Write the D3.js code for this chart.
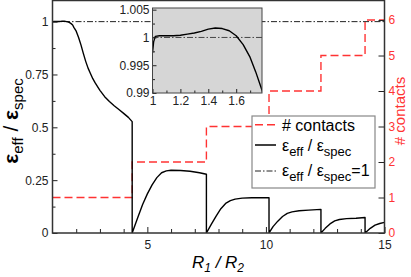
<!DOCTYPE html>
<html>
<head>
<meta charset="utf-8">
<script src="https://cdn.jsdelivr.net/npm/d3@7"></script>
<style>
  body { margin: 0; background: #fff; }
  svg { display: block; }
  svg text { font-family: "Liberation Sans", Arial, sans-serif; }
</style>
</head>
<body>
<div id="chart"></div>
<script>
// Données lues sur la figure
// segments de eff/spec entre deux changements de nombre de contacts
const segment1 = [[1.0, 0.9972], [1.008, 0.9992], [1.02, 1.0002], [1.05, 1.0003], [1.1, 1.0003], [1.15, 1.0003],
  [1.2, 1.0004], [1.25, 1.0006], [1.3, 1.0008], [1.35, 1.0011], [1.4, 1.0015], [1.45, 1.0017], [1.5, 1.0016],
  [1.55, 1.0012], [1.6, 1.0003], [1.65, 0.9987], [1.7, 0.9964], [1.74, 0.9938], [1.785, 0.9905], [1.85, 0.984],
  [1.9, 0.973], [2.0, 0.955], [2.1, 0.925], [2.2, 0.89], [2.3, 0.85], [2.4, 0.812], [2.5, 0.78], [2.6, 0.755],
  [2.7, 0.73], [2.8, 0.71], [3.0, 0.675], [3.2, 0.645], [3.4, 0.622], [3.6, 0.602], [3.8, 0.584], [4.0, 0.566],
  [4.2, 0.547], [4.36, 0.527]];
const segment2 = [[4.36, 0], [4.6, 0.075], [4.8, 0.135], [5.0, 0.185], [5.2, 0.228], [5.4, 0.262], [5.6, 0.285],
  [5.8, 0.294], [6.0, 0.297], [6.4, 0.296], [6.8, 0.292], [7.2, 0.285], [7.49, 0.278]];
const segment3 = [[7.49, 0], [7.7, 0.042], [7.9, 0.08], [8.1, 0.115], [8.3, 0.14], [8.5, 0.153], [8.7, 0.16],
  [9.0, 0.165], [9.4, 0.167], [10.13, 0.167]];
const segment4 = [[10.13, 0], [10.3, 0.03], [10.5, 0.056], [10.7, 0.078], [10.9, 0.093], [11.1, 0.1], [11.4, 0.105],
  [11.8, 0.108], [12.32, 0.112]];
const segment5 = [[12.32, 0], [12.5, 0.022], [12.7, 0.043], [12.9, 0.057], [13.1, 0.064], [13.4, 0.068],
  [13.8, 0.07], [14.18, 0.073]];
const segment6 = [[14.18, 0], [14.4, 0.022], [14.6, 0.037], [14.8, 0.045], [15.0, 0.05]];

// nombre de contacts (marches)
const pasContacts = [1, 4.36, 7.49, 10.13, 12.32, 14.18, 15];
const nbContacts = [1, 2, 3, 4, 5, 6, 6];

// graduations
const ticksX = [5, 10, 15];
const ticksXMineurs = [2, 3, 4, 6, 7, 8, 9, 11, 12, 13, 14];
const ticksY = [0, 0.25, 0.5, 0.75, 1];
const ticksYMineurs = [0.125, 0.375, 0.625, 0.875];
const ticksContacts = [0, 1, 2, 3, 4, 5, 6];
const ticksXEncart = [1, 1.2, 1.4, 1.6];
const ticksXEncartMineurs = [1.1, 1.3, 1.5, 1.7];
const ticksYEncart = [0.99, 0.995, 1, 1.005];
const ticksYEncartMineurs = [0.9925, 0.9975, 1.0025];

const rouge = "#ff3333";

// Dimensions
const largeur = 411, hauteur = 277;
const zone = {gauche: 52.5, droite: 384.5, haut: 0.5, bas: 233};

const svg = d3.select("#chart").append("svg")
  .attr("width", largeur)
  .attr("height", hauteur);

const x = d3.scaleLinear().domain([1, 15]).range([zone.gauche, zone.droite]);
const y = d3.scaleLinear().domain([0, 1.1]).range([zone.bas, zone.haut]);
const yC = d3.scaleLinear().domain([0, 6.55]).range([zone.bas, zone.haut]);

svg.append("clipPath").attr("id", "clipMain")
  .append("rect")
  .attr("x", zone.gauche).attr("y", zone.haut)
  .attr("width", zone.droite - zone.gauche).attr("height", zone.bas - zone.haut);

const plot = svg.append("g").attr("clip-path", "url(#clipMain)");

// ligne eff/spec = 1
plot.append("path")
  .datum([[1, 1], [15, 1]])
  .attr("d", d3.line().x(d => x(d[0])).y(d => y(d[1])))
  .attr("fill", "none")
  .attr("stroke", "#222")
  .attr("stroke-width", 1)
  .attr("stroke-dasharray", "6,2,1.5,2");

// marches du nombre de contacts
plot.append("path")
  .datum(pasContacts.map((p, i) => [p, nbContacts[i]]))
  .attr("d", d3.line().curve(d3.curveStepAfter).x(d => x(d[0])).y(d => yC(d[1])))
  .attr("fill", "none")
  .attr("stroke", rouge)
  .attr("stroke-width", 1.4)
  .attr("stroke-dasharray", "8,4");

// courbe eff/spec
const toutesLesValeurs = [].concat(segment1, segment2, segment3, segment4, segment5, segment6);
plot.append("path")
  .datum(toutesLesValeurs)
  .attr("d", d3.line().x(d => x(d[0])).y(d => y(d[1])))
  .attr("fill", "none")
  .attr("stroke", "#000")
  .attr("stroke-width", 1.4)
  .attr("stroke-linejoin", "round");

// Axes
function styliser(g, couleur) {
  g.attr("font-family", null);
  g.select(".domain").remove();
  g.selectAll("line").attr("stroke", couleur).attr("stroke-width", 1);
  g.selectAll("text").attr("fill", couleur);
}

svg.append("g").attr("transform", `translate(0,${zone.bas})`)
  .call(d3.axisBottom(x).tickValues(ticksX).tickSize(-6).tickPadding(7).tickFormat(d3.format("d")))
  .call(g => styliser(g, "#222"))
  .attr("font-size", 12);
svg.append("g").attr("transform", `translate(0,${zone.bas})`)
  .call(d3.axisBottom(x).tickValues(ticksXMineurs).tickSize(-4).tickFormat(""))
  .call(g => styliser(g, "#222"));

svg.append("g").attr("transform", `translate(${zone.gauche},0)`)
  .call(d3.axisLeft(y).tickValues(ticksY).tickSize(-5).tickPadding(4).tickFormat(d => String(d)))
  .call(g => styliser(g, "#222"))
  .attr("font-size", 12);
svg.append("g").attr("transform", `translate(${zone.gauche},0)`)
  .call(d3.axisLeft(y).tickValues(ticksYMineurs).tickSize(-3).tickFormat(""))
  .call(g => styliser(g, "#222"));

svg.append("g").attr("transform", `translate(${zone.droite},0)`)
  .call(d3.axisRight(yC).tickValues(ticksContacts).tickSize(-6).tickPadding(4).tickFormat(d3.format("d")))
  .call(g => styliser(g, "#222"))
  .attr("font-size", 12)
  .call(g => g.selectAll("text").attr("fill", rouge));

// cadre
svg.append("rect")
  .attr("x", zone.gauche).attr("y", zone.haut)
  .attr("width", zone.droite - zone.gauche).attr("height", zone.bas - zone.haut)
  .attr("fill", "none").attr("stroke", "#333").attr("stroke-width", 1.5);

// Encart (zoom sur le début)
const encart = {gauche: 152.5, droite: 262, haut: 8, bas: 93};
const xi = d3.scaleLinear().domain([1, 1.785]).range([encart.gauche, encart.droite]);
const yi = d3.scaleLinear().domain([0.99, 1.0053]).range([encart.bas, encart.haut]);

svg.append("rect")
  .attr("x", encart.gauche).attr("y", encart.haut)
  .attr("width", encart.droite - encart.gauche).attr("height", encart.bas - encart.haut)
  .attr("fill", "#d6d6d6");

svg.append("clipPath").attr("id", "clipEncart")
  .append("rect")
  .attr("x", encart.gauche).attr("y", encart.haut)
  .attr("width", encart.droite - encart.gauche).attr("height", encart.bas - encart.haut);

const gEncart = svg.append("g").attr("clip-path", "url(#clipEncart)");

gEncart.append("path")
  .datum([[1, 1], [1.785, 1]])
  .attr("d", d3.line().x(d => xi(d[0])).y(d => yi(d[1])))
  .attr("fill", "none")
  .attr("stroke", "#444")
  .attr("stroke-width", 1)
  .attr("stroke-dasharray", "6,2,1.5,2");

gEncart.append("path")
  .datum(segment1)
  .attr("d", d3.line().x(d => xi(d[0])).y(d => yi(d[1])))
  .attr("fill", "none")
  .attr("stroke", "#000")
  .attr("stroke-width", 1.4)
  .attr("stroke-linejoin", "round");

svg.append("g").attr("transform", `translate(0,${encart.bas})`)
  .call(d3.axisBottom(xi).tickValues(ticksXEncart).tickSize(-4).tickPadding(3).tickFormat(d => String(d)))
  .call(g => styliser(g, "#222"))
  .attr("font-size", 12);
svg.append("g").attr("transform", `translate(0,${encart.bas})`)
  .call(d3.axisBottom(xi).tickValues(ticksXEncartMineurs).tickSize(-2.5).tickFormat(""))
  .call(g => styliser(g, "#222"));
svg.append("g").attr("transform", `translate(${encart.gauche},0)`)
  .call(d3.axisLeft(yi).tickValues(ticksYEncart).tickSize(-4).tickPadding(3).tickFormat(d => String(d)))
  .call(g => styliser(g, "#222"))
  .attr("font-size", 12);
svg.append("g").attr("transform", `translate(${encart.gauche},0)`)
  .call(d3.axisLeft(yi).tickValues(ticksYEncartMineurs).tickSize(-2.5).tickFormat(""))
  .call(g => styliser(g, "#222"));

svg.append("rect")
  .attr("x", encart.gauche).attr("y", encart.haut)
  .attr("width", encart.droite - encart.gauche).attr("height", encart.bas - encart.haut)
  .attr("fill", "none").attr("stroke", "#444").attr("stroke-width", 1);

// Légende
const legende = svg.append("g");
legende.append("rect")
  .attr("x", 252).attr("y", 116).attr("width", 123).attr("height", 72)
  .attr("fill", "#fff").attr("stroke", "#888").attr("stroke-width", 1.2);

const entrees = [
  {ligne: 124.7, base: 131, couleur: rouge, tirets: "8,4", suffixe: null},
  {ligne: 145, base: 151, couleur: "#000", tirets: null, suffixe: ""},
  {ligne: 171, base: 176, couleur: "#222", tirets: "6,2,1.5,2", suffixe: "=1"}
];
entrees.forEach(e => {
  legende.append("line")
    .attr("x1", 255).attr("x2", 276).attr("y1", e.ligne).attr("y2", e.ligne)
    .attr("stroke", e.couleur).attr("stroke-width", e.tirets === "6,2,1.5,2" ? 1 : 1.5)
    .attr("stroke-dasharray", e.tirets);
  const t = legende.append("text").attr("x", 282).attr("y", e.base).attr("font-size", 16).attr("fill", "#000");
  if (e.suffixe === null) {
    t.text("# contacts");
  } else {
    t.append("tspan").text("ε");
    t.append("tspan").attr("font-size", 13).attr("dy", 5).text("eff");
    t.append("tspan").attr("dy", -5).text(" / ε");
    t.append("tspan").attr("font-size", 13).attr("dy", 5).text("spec");
    if (e.suffixe) t.append("tspan").attr("dy", -5).text(e.suffixe);
  }
});

// Titres des axes
const titreY = svg.append("text")
  .attr("transform", "translate(18,121) rotate(-90)")
  .attr("text-anchor", "middle")
  .attr("font-size", 21)
  .attr("fill", "#000");
titreY.append("tspan").attr("font-weight", "bold").text("ε");
titreY.append("tspan").attr("font-size", 15).attr("dy", 5).text("eff");
titreY.append("tspan").attr("dy", -5).text(" / ");
titreY.append("tspan").attr("font-weight", "bold").text("ε");
titreY.append("tspan").attr("font-size", 15).attr("dy", 5).text("spec");

svg.append("text")
  .attr("transform", "translate(405,111) rotate(-90)")
  .attr("text-anchor", "middle")
  .attr("font-size", 15)
  .attr("fill", rouge)
  .text("# contacts");

const titreX = svg.append("text")
  .attr("x", 218).attr("y", 268)
  .attr("text-anchor", "middle")
  .attr("font-size", 17)
  .attr("font-style", "italic")
  .attr("fill", "#000");
titreX.append("tspan").text("R");
titreX.append("tspan").attr("font-size", 12).attr("dy", 4).text("1");
titreX.append("tspan").attr("dy", -4).text(" / R");
titreX.append("tspan").attr("font-size", 12).attr("dy", 4).text("2");
</script>
</body>
</html>
